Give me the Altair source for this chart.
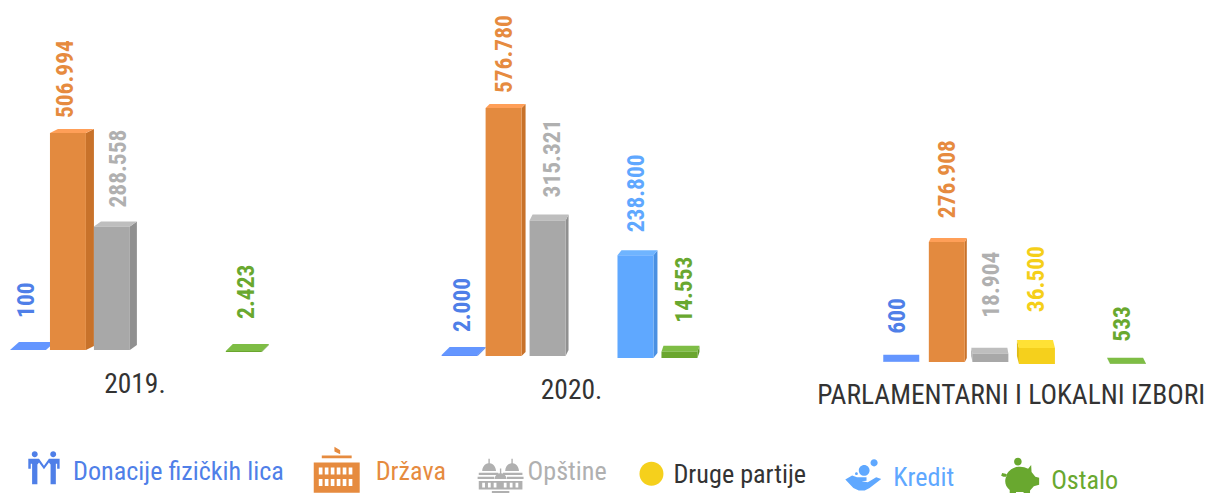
import math
import altair as alt
import pandas as pd

# ---- data
PANEL_TITLES = ["2019.", "2020.", "PARLAMENTARNI I LOKALNI IZBORI"]
SERIES_KEYS = ["donacije", "drzava", "opstine", "partije", "kredit", "ostalo"]
LEGEND_NAMES = ["Donacije fizičkih lica", "Država", "Opštine", "Druge partije", "Kredit", "Ostalo"]
VALUES_2019 = [100, 506994, 288558, None, None, 2423]
VALUES_2020 = [2000, 576780, 315321, None, 238800, 14553]
VALUES_IZBORI = [600, 276908, 18904, 36500, None, 533]

# ---- styles
FONT = "Roboto Condensed, Liberation Sans Narrow, Roboto"
COL = {
    "donacije": dict(front="#5F8FFA", side="#4C78D8", cap="#6496FF", label="#4F7FE8"),
    "drzava": dict(front="#E38A3F", side="#C8722A", cap="#FF9F58", label="#E68B3F"),
    "opstine": dict(front="#A8A8A8", side="#909090", cap="#BEBEBE", label="#B0B0B0"),
    "partije": dict(front="#F5D01C", side="#E0BC10", cap="#FFE135", label="#F5CF19"),
    "kredit": dict(front="#5FA8FF", side="#4A90E2", cap="#6FB4FF", label="#5FA8FF"),
    "ostalo": dict(front="#6AA62E", side="#5A9426", cap="#7EBD45", label="#69A82F"),
}
# per bar look: x nudge, depth x, depth y, baseline nudge, label dx, label gap (px)
LOOK = [
    {"donacije": (4, 9, 8, 0, -1, 32), "drzava": (0, 8, 4, 0, -2, 15), "opstine": (0, 7, 5, 0, 7, 19),
     "ostalo": (0, 7, 7, 2, 3, 32)},
    {"donacije": (0, 8, 8, 0, 3, 23), "drzava": (0, 4, 4, 0, 1, 15), "opstine": (0, 3, 6, 0, 5, 23),
     "kredit": (0, 4, 5, 2, 2, 23), "ostalo": (0, 2, 6, 2, 6, 29)},
    {"donacije": (0, 0, 7, 0, -3, 28), "drzava": (1, 2, 4, 0, 1, 24), "opstine": (0, -1, 6, 0, 2, 36),
     "partije": (2, -2, 8, 2, 0, 36), "ostalo": (4, -3, 6, 2, -5, 22)},
]
# panel layout: page left, width, slot0 px, slot pitch, baseline px, px per unit, title centre x, y
PANELS = [
    (8, 422, 6, 44.0, 350, 0.000428, 135, 385),
    (430, 380, 442, 44.0, 356, 0.000430, 572, 391),
    (810, 396, 884, 44.6, 362, 0.000433, 1012, 396),
]
TOP_H = 425
BAR_W = 36
TITLE_SIZE = 27.5
LABEL_SIZE = 23.5
LEGEND_SIZE = 26.2


def panel(values, look, layout, title):
    left, W, slot0, pitch, base, k, tcx, tcy = layout
    fr, si, ca, la = [], [], [], []
    for key, v in zip(SERIES_KEYS, values):
        if v is None:
            continue
        slot = SERIES_KEYS.index(key)
        shift, dx, dy, bsh, ldx, gap = look[key]
        ux, uy = shift / pitch, 1 / k
        x0 = slot + ux
        x1 = x0 + BAR_W / pitch
        dxs = dx / pitch
        b = -bsh * uy
        top = b + v
        h = dy * uy
        c = COL[key]
        fr.append(dict(x=x0, x2=x1, y=top, y2=b, c=c["front"]))
        ca += [dict(x=x0, x2=x1, y=top, c=c["cap"]), dict(x=x0 + dxs, x2=x1 + dxs, y=top + h, c=c["cap"])]
        if dx > 0:
            si += [dict(x=x1, y=top, y2=b, c=c["side"]), dict(x=x1 + dxs, y=top + h, y2=b + h, c=c["side"])]
        elif dx < 0:
            si += [dict(x=x0 + dxs, y=top + h, y2=b + h, c=c["side"]), dict(x=x0, y=top, y2=b, c=c["side"])]
        la.append(dict(x=(x0 + x1) / 2 + ldx / pitch, y=top + gap * uy,
                       t=f"{v:,}".replace(",", "."), c=c["label"]))
    lo_x = -(slot0 - left) / pitch
    sx = alt.Scale(domain=[lo_x, lo_x + W / pitch], range=[0, W], nice=False, zero=False)
    by = base - 8
    sy = alt.Scale(domain=[-(TOP_H - by) / k, by / k], range=[TOP_H, 0], nice=False, zero=False)
    X = alt.X("x:Q", scale=sx, axis=None, stack=None)
    Y = alt.Y("y:Q", scale=sy, axis=None, stack=None)
    colr = alt.Color("c:N", scale=None, legend=None)
    layers = []
    if si:
        layers.append(alt.Chart(pd.DataFrame(si)).mark_area(interpolate="linear", strokeWidth=0).encode(
            x=X, y=Y, y2="y2:Q", color=colr))
    layers.append(alt.Chart(pd.DataFrame(ca)).mark_area(orient="horizontal", strokeWidth=0).encode(
        x=X, x2="x2:Q", y=Y, color=colr))
    layers.append(alt.Chart(pd.DataFrame(fr)).mark_rect(strokeWidth=0).encode(
        x=X, x2="x2:Q", y=Y, y2="y2:Q", color=colr))
    layers.append(alt.Chart(pd.DataFrame(la)).mark_text(
        angle=270, align="left", baseline="middle", font=FONT, fontWeight="bold", fontSize=LABEL_SIZE).encode(
        x=X, y=Y, text="t:N", color=colr))
    layers.append(alt.Chart(pd.DataFrame({"t": [title]})).mark_text(
        font=FONT, fontSize=TITLE_SIZE, color="#333333", align="center", baseline="middle").encode(
        x=alt.value(tcx - left), y=alt.value(tcy - 8), text="t:N"))
    return alt.layer(*layers).properties(width=W, height=TOP_H)


# ---- legend icons (drawn in a -1..1 box)
def circ(cx, cy, r):
    return f"M{cx-r:.3f} {cy:.3f}a{r} {r} 0 1 0 {2*r} 0a{r} {r} 0 1 0 {-2*r} 0Z"


def rect(x0, y0, x1, y1):
    return f"M{x0} {y0}L{x1} {y0}L{x1} {y1}L{x0} {y1}Z"


def hole(x0, y0, x1, y1):
    return f"M{x0} {y0}L{x0} {y1}L{x1} {y1}L{x1} {y0}Z"


def windows(xs, y0, y1, w):
    return "".join(hole(x, y0, round(x + w, 3), y1) for x in xs)


def dome(cx, base, rx, ry):
    return (f"M{cx-rx} {base}A{rx} {ry} 0 0 1 {cx-0.03} {base-ry}L{cx-0.03} {base-ry-0.2}L{cx+0.03} {base-ry-0.2}"
            f"L{cx+0.03} {base-ry}A{rx} {ry} 0 0 1 {cx+rx} {base}Z")


ICON_PEOPLE = (
    circ(-0.56, -0.82, 0.18) + circ(0.56, -0.82, 0.18)
    + "M-0.95 -0.55L-0.3 -0.55L0 -0.12L0.3 -0.55L0.95 -0.55L0.95 0.05L0.8 0.05L0.8 -0.25L0.72 -0.25"
      "L0.72 1L0.4 1L0.4 -0.2L0.3 -0.32L0 0.08L-0.3 -0.32L-0.4 -0.2L-0.4 1"
      "L-0.72 1L-0.72 -0.25L-0.8 -0.25L-0.8 0.05L-0.95 0.05Z"
)
ICON_STATE = (
    "M-0.1 -1L0.15 -0.85L0.15 -0.68L-0.1 -0.8Z" + rect(-0.65, -0.62, 0.65, -0.5)
    + rect(-1, -0.32, 1, 1)
    + windows([-0.78, -0.52, -0.26, 0, 0.26, 0.52], -0.1, 0.2, 0.16)
    + windows([-0.78, -0.52, -0.26, 0, 0.26, 0.52], 0.4, 0.7, 0.16)
)
ICON_TOWN = (
    dome(-0.5, -0.25, 0.3, 0.34) + dome(0.5, -0.25, 0.3, 0.34)
    + rect(-0.95, -0.18, -0.1, -0.08) + rect(0.1, -0.18, 0.95, -0.08)
    + rect(-1, 0, -0.28, 0.1) + rect(0.28, 0, 1, 0.1)
    + rect(-0.95, 0.18, 0.95, 0.55) + rect(-0.38, 0.62, 0.38, 1)
    + windows([-0.8, -0.55, -0.3, 0.14, 0.4, 0.65], 0.26, 0.46, 0.12)
    + windows([-0.26, -0.06, 0.14], 0.72, 0.92, 0.1)
    + dome(0, 0.1, 0.26, 0.26)
)
ICON_COIN = circ(0, 0, 1)
ICON_CREDIT = (
    "M-1 0.2L-0.62 -0.02L-0.35 0.08L0.18 0.08L0.18 0.28L-0.1 0.3L0.25 0.36L0.72 0.08L1 0.18"
    "L0.35 0.68L0.08 0.82L-0.25 0.82L-0.55 0.68Z"
    + circ(0.05, -0.3, 0.3) + hole(0.02, -0.42, 0.1, -0.18)
    + circ(0.6, -0.72, 0.2) + circ(0.6, -0.72, 0.01)
    + circ(-0.38, -0.12, 0.08)
)
ICON_PIG = (
    "M-0.75 0.02A0.75 0.65 0 0 1 0.42 -0.42L0.58 -0.62L0.6 -0.25L0.8 0L1 0.05L1 0.42L0.72 0.5"
    "L0.52 0.72L0.52 1L0.18 1L0.18 0.8L-0.22 0.8L-0.22 1L-0.55 1L-0.55 0.7A0.75 0.65 0 0 1 -0.75 0.02Z"
    + circ(-0.12, -0.8, 0.2)
    + "M-0.72 -0.15L-0.95 -0.2L-1 -0.05L-0.88 0L-0.72 0Z"
)

ICONS = [ICON_PEOPLE, ICON_STATE, ICON_TOWN, ICON_COIN, ICON_CREDIT, ICON_PIG]
ICON_COLS = [COL["donacije"]["label"], COL["drzava"]["label"], COL["opstine"]["label"],
             COL["partije"]["front"], COL["kredit"]["label"], COL["ostalo"]["label"]]
TEXT_COLS = [COL["donacije"]["label"], COL["drzava"]["label"], COL["opstine"]["label"],
             "#333333", COL["kredit"]["label"], COL["ostalo"]["label"]]
# icon centre x, y, box; text left x, centre y (page px)
LEG_POS = [(44, 468, 33, 73, 472), (337, 470, 46, 376, 472), (501, 477, 46, 528, 472),
           (652, 474, 24, 674, 475), (864, 476, 36, 894, 478), (1021, 477, 38, 1052, 481)]
LEG_TOP = 8 + TOP_H

leg_layers = []
for name, path, ic, tc, (ix, iy, box, tx, ty) in zip(LEGEND_NAMES, ICONS, ICON_COLS, TEXT_COLS, LEG_POS):
    leg_layers.append(alt.Chart(pd.DataFrame({"n": [name]})).mark_point(
        shape=path, filled=True, opacity=1, strokeWidth=0, color=ic, size=box * box).encode(
        x=alt.value(ix - 8), y=alt.value(iy - LEG_TOP)))
    leg_layers.append(alt.Chart(pd.DataFrame({"n": [name]})).mark_text(
        font=FONT, fontSize=LEGEND_SIZE, color=tc, align="left", baseline="middle").encode(
        x=alt.value(tx - 8), y=alt.value(ty - LEG_TOP), text="n:N"))
legend_row = alt.layer(*leg_layers).properties(width=1198, height=60)

row = alt.hconcat(
    panel(VALUES_2019, LOOK[0], PANELS[0], PANEL_TITLES[0]),
    panel(VALUES_2020, LOOK[1], PANELS[1], PANEL_TITLES[1]),
    panel(VALUES_IZBORI, LOOK[2], PANELS[2], PANEL_TITLES[2]),
    spacing=0,
)
chart = alt.vconcat(row, legend_row, spacing=0).properties(padding=0).configure_view(stroke=None)
chart.save("out.html", embed_options={"renderer": "svg", "actions": False})
